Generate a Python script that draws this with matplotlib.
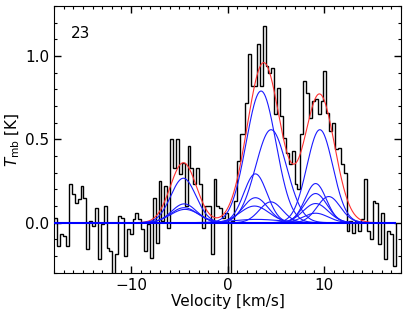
import numpy as np
import matplotlib
matplotlib.use("Agg")
import matplotlib.pyplot as plt
from matplotlib.ticker import MultipleLocator

# spectrum: channel edges start at v_start, width dv (km/s)
v_start = -17.95
dv = 0.3
tmb = [0.03, -0.14, -0.07, -0.08, -0.14, 0.23, 0.17, 0.12, 0.14, 0.22,
       0.15, -0.16, 0.01, -0.02, 0.09, -0.22, -0.01, 0.10, -0.15, -0.17,
       -0.40, -0.19, 0.04, 0.03, -0.20, -0.04, -0.07, 0.02, 0.06, 0.02,
       -0.04, -0.17, -0.01, -0.21, 0.15, -0.12, 0.25, 0.01, 0.22, -0.03,
       0.50, 0.33, 0.50, 0.29, 0.36, 0.10, 0.46, 0.33, 0.23, 0.33,
       0.23, -0.03, 0.10, 0.10, -0.19, 0.26, 0.10, 0.09, 0.03, 0.06,
       -0.35, 0.01, 0.13, 0.37, 0.53, 0.53, 0.72, 1.01, 0.82, 0.82,
       1.07, 0.82, 1.18, 0.94, 0.90, 0.93, 0.65, 0.81, 0.64, 0.51,
       0.42, 0.35, 0.43, 0.23, 0.20, 0.53, 0.85, 0.78, 0.63, 0.73,
       0.74, 0.65, 0.73, 0.91, 0.66, 0.55, 0.60, 0.44, 0.45, 0.35,
       0.30, -0.05, 0.01, -0.06, 0.01, -0.05, 0.02, 0.26, -0.05, -0.10,
       0.13, 0.12, -0.13, 0.06, -0.22, -0.05, -0.07, -0.26]

# total fit (red)
fit_amp = [0.36, 0.96, 0.77]
fit_cen = [-4.58, 3.75, 9.55]
fit_sig = [1.35, 1.70, 1.55]

# individual components (blue)
comp_amp = [0.267, 0.113, 0.090, 0.080,
            0.79, 0.558, 0.293, 0.150, 0.125, 0.100, 0.020,
            0.558, 0.235, 0.175, 0.157, 0.115, 0.057]
comp_cen = [-4.58, -4.5, -4.5, -4.4,
            3.48, 4.52, 2.89, 2.9, 4.5, 2.8, 3.0,
            9.58, 9.14, 9.14, 10.5, 9.14, 9.14]
comp_sig = [1.30, 1.30, 1.40, 1.50,
            1.55, 1.60, 1.20, 1.30, 1.20, 1.50, 2.50,
            1.35, 1.10, 1.20, 1.20, 1.30, 1.30]


def gauss(x, a, c, s):
    return a * np.exp(-(x - c) ** 2 / (2 * s ** 2))


plt.rcParams['font.family'] = 'DejaVu Sans'
plt.rcParams['mathtext.fontset'] = 'dejavusans'

fig = plt.figure(figsize=(4.07, 3.17), dpi=100)
ax = fig.add_axes([0.1327, 0.1397, 0.8526, 0.8413])

edges = v_start + dv * np.arange(len(tmb) + 1)
vgrid = np.linspace(-18.2, 17.4, 800)

total = np.zeros_like(vgrid)
for a, c, s in zip(fit_amp, fit_cen, fit_sig):
    total += gauss(vgrid, a, c, s)

ax.stairs(tmb, edges, color='black', lw=1.0, zorder=2)
ax.plot(vgrid, total, color='#ff3030', lw=0.8, zorder=3)
for a, c, s in zip(comp_amp, comp_cen, comp_sig):
    ax.plot(vgrid, gauss(vgrid, a, c, s), color='#1a1aff', lw=0.8, zorder=4)
ax.plot(vgrid, np.zeros_like(vgrid), color='#0000ff', lw=1.5, zorder=4)

ax.set_xlim(-18, 18)
ax.set_ylim(-0.3, 1.3)
ax.xaxis.set_major_locator(MultipleLocator(10))
ax.xaxis.set_minor_locator(MultipleLocator(1))
ax.yaxis.set_major_locator(MultipleLocator(0.5))
ax.yaxis.set_minor_locator(MultipleLocator(0.1))
ax.tick_params(which='both', direction='in', top=True, right=True, labelsize=11)
ax.tick_params(which='major', length=5, width=1)
ax.tick_params(which='minor', length=2.5, width=0.8)

ax.set_xlabel('Velocity [km/s]', fontsize=11, labelpad=1)
ax.set_ylabel(r'$T_{\rm mb}$ [K]', fontsize=11, labelpad=2)
ax.text(0.05, 0.925, '23', transform=ax.transAxes, fontsize=11, va='top', ha='left')

fig.savefig('out.png', dpi=100)
